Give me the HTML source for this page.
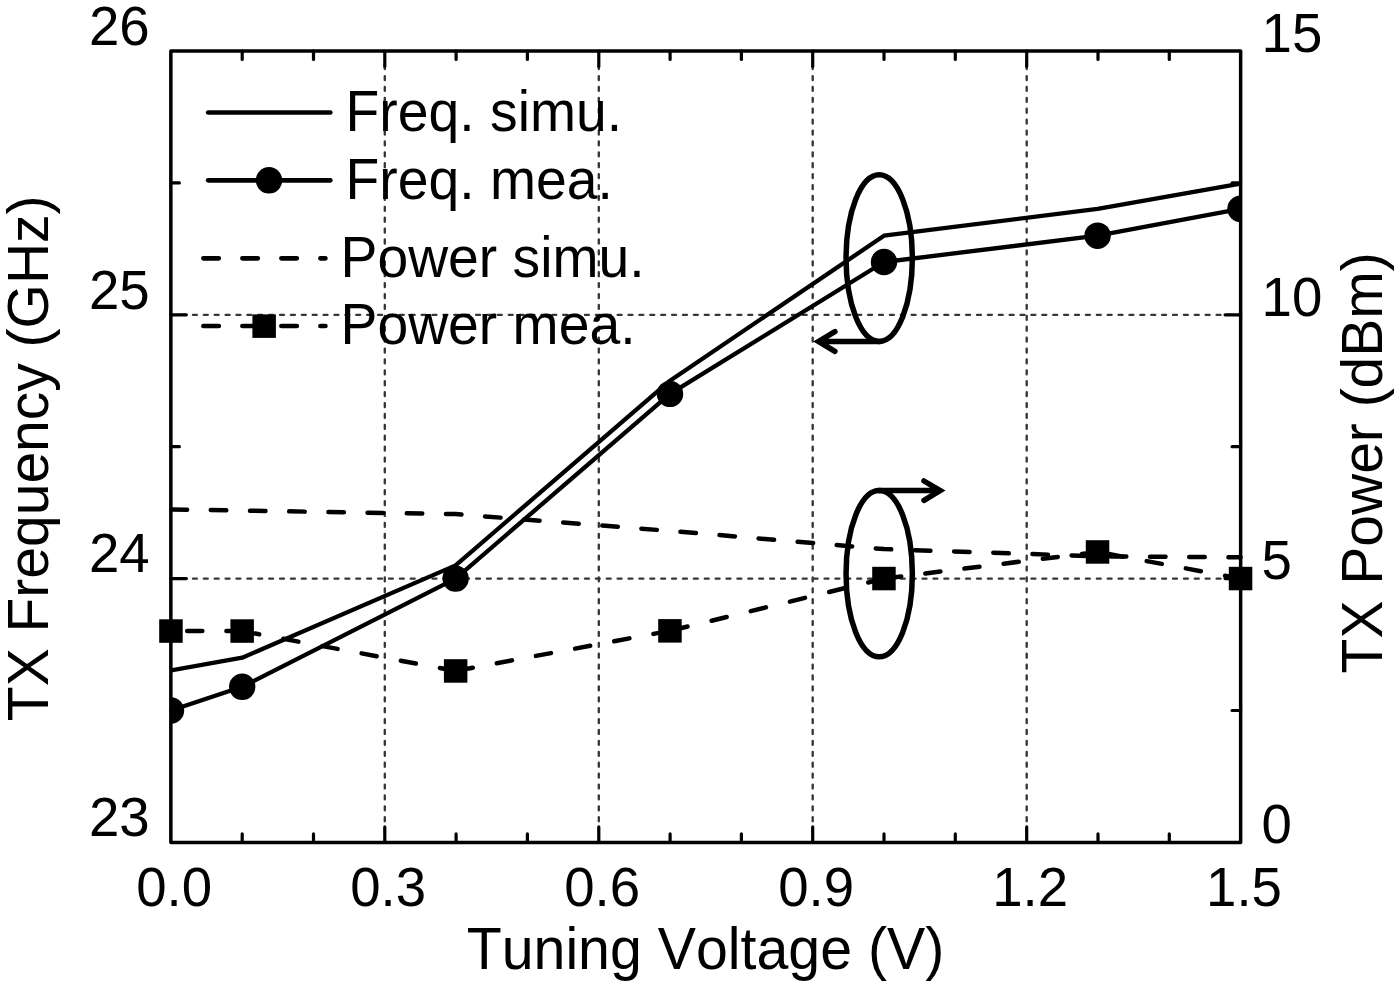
<!DOCTYPE html>
<html><head><meta charset="utf-8"><title>TX Frequency and Power vs Tuning Voltage</title>
<style>
html,body{margin:0;padding:0;background:#fff;}
body{width:1400px;height:988px;overflow:hidden;}
svg{display:block;}
text{font-family:"Liberation Sans",Arial,Helvetica,sans-serif;fill:#000;font-kerning:none;}
.tk{font-size:54.6px;}
.ti{font-size:57px;}
.tx{font-size:57.3px;}
.lg{font-size:55.3px;}
</style></head><body>
<svg width="1400" height="988" viewBox="0 0 1400 988">
<defs><clipPath id="fr"><rect x="171" y="51" width="1069.6" height="791.4"/></clipPath></defs>
<rect x="0" y="0" width="1400" height="988" fill="#fff"/>

<g stroke="#363636" stroke-width="2.35" stroke-linecap="round" fill="none">
<line x1="384.8" y1="65.15" x2="384.8" y2="842.4" stroke-dasharray="3.9 7"/>
<line x1="598.8" y1="65.15" x2="598.8" y2="842.4" stroke-dasharray="3.9 7"/>
<line x1="812.7" y1="65.15" x2="812.7" y2="842.4" stroke-dasharray="3.9 7"/>
<line x1="1026.7" y1="65.15" x2="1026.7" y2="842.4" stroke-dasharray="3.9 7"/>
<line x1="182.06" y1="578.6" x2="1240.6" y2="578.6" stroke-dasharray="3.9 6.99"/>
<line x1="182.06" y1="314.8" x2="1240.6" y2="314.8" stroke-dasharray="3.9 6.99"/>
</g>
<rect x="170.85" y="51.0" width="1069.8" height="791.4" fill="none" stroke="#000" stroke-width="3.5" stroke-linejoin="round"/>
<g stroke="#000" stroke-width="3.2" stroke-linecap="round">
<line x1="242.2" y1="51.0" x2="242.2" y2="59.5"/>
<line x1="242.2" y1="842.4" x2="242.2" y2="833.9"/>
<line x1="313.5" y1="51.0" x2="313.5" y2="59.5"/>
<line x1="313.5" y1="842.4" x2="313.5" y2="833.9"/>
<line x1="384.8" y1="51.0" x2="384.8" y2="66.5"/>
<line x1="384.8" y1="842.4" x2="384.8" y2="826.9"/>
<line x1="456.1" y1="51.0" x2="456.1" y2="59.5"/>
<line x1="456.1" y1="842.4" x2="456.1" y2="833.9"/>
<line x1="527.4" y1="51.0" x2="527.4" y2="59.5"/>
<line x1="527.4" y1="842.4" x2="527.4" y2="833.9"/>
<line x1="598.8" y1="51.0" x2="598.8" y2="66.5"/>
<line x1="598.8" y1="842.4" x2="598.8" y2="826.9"/>
<line x1="670.1" y1="51.0" x2="670.1" y2="59.5"/>
<line x1="670.1" y1="842.4" x2="670.1" y2="833.9"/>
<line x1="741.4" y1="51.0" x2="741.4" y2="59.5"/>
<line x1="741.4" y1="842.4" x2="741.4" y2="833.9"/>
<line x1="812.7" y1="51.0" x2="812.7" y2="66.5"/>
<line x1="812.7" y1="842.4" x2="812.7" y2="826.9"/>
<line x1="884.0" y1="51.0" x2="884.0" y2="59.5"/>
<line x1="884.0" y1="842.4" x2="884.0" y2="833.9"/>
<line x1="955.3" y1="51.0" x2="955.3" y2="59.5"/>
<line x1="955.3" y1="842.4" x2="955.3" y2="833.9"/>
<line x1="1026.7" y1="51.0" x2="1026.7" y2="66.5"/>
<line x1="1026.7" y1="842.4" x2="1026.7" y2="826.9"/>
<line x1="1098.0" y1="51.0" x2="1098.0" y2="59.5"/>
<line x1="1098.0" y1="842.4" x2="1098.0" y2="833.9"/>
<line x1="1169.3" y1="51.0" x2="1169.3" y2="59.5"/>
<line x1="1169.3" y1="842.4" x2="1169.3" y2="833.9"/>
<line x1="170.85" y1="710.5" x2="179.35" y2="710.5"/>
<line x1="1240.6" y1="710.5" x2="1232.1" y2="710.5"/>
<line x1="170.85" y1="578.6" x2="186.35" y2="578.6"/>
<line x1="1240.6" y1="578.6" x2="1225.1" y2="578.6"/>
<line x1="170.85" y1="446.7" x2="179.35" y2="446.7"/>
<line x1="1240.6" y1="446.7" x2="1232.1" y2="446.7"/>
<line x1="170.85" y1="314.8" x2="186.35" y2="314.8"/>
<line x1="1240.6" y1="314.8" x2="1225.1" y2="314.8"/>
<line x1="170.85" y1="182.9" x2="179.35" y2="182.9"/>
<line x1="1240.6" y1="182.9" x2="1232.1" y2="182.9"/>
</g>
<polyline points="171.0,509.4 242.2,510.6 455.6,514.1 670.0,530.9 884.0,549.1 1097.6,556.3 1240.5,557.3" fill="none" stroke="#000" stroke-width="4.5" stroke-linecap="round" stroke-linejoin="round" stroke-dasharray="15.5 23.7" stroke-dashoffset="-0.6"/>
<g stroke="#000" stroke-width="4.5" stroke-linecap="round" fill="none">
<line x1="187.2" y1="631.1" x2="202.3" y2="631.1"/>
<line x1="226.4" y1="631.1" x2="241.5" y2="631.1"/>
<line x1="244.2" y1="631.5" x2="259.2" y2="634.3"/>
<line x1="283.3" y1="638.8" x2="298.4" y2="641.6"/>
<line x1="322.4" y1="646.1" x2="337.6" y2="648.9"/>
<line x1="361.6" y1="653.4" x2="376.7" y2="656.2"/>
<line x1="400.8" y1="660.7" x2="415.9" y2="663.5"/>
<line x1="439.9" y1="668.0" x2="455.0" y2="670.8"/>
<line x1="457.6" y1="670.5" x2="472.8" y2="667.7"/>
<line x1="496.8" y1="663.2" x2="511.9" y2="660.4"/>
<line x1="535.9" y1="655.9" x2="551.0" y2="653.1"/>
<line x1="575.1" y1="648.6" x2="590.2" y2="645.8"/>
<line x1="614.2" y1="641.3" x2="629.4" y2="638.4"/>
<line x1="653.4" y1="633.9" x2="668.5" y2="631.1"/>
<line x1="672.5" y1="630.2" x2="687.6" y2="626.5"/>
<line x1="711.6" y1="620.7" x2="726.7" y2="617.0"/>
<line x1="750.8" y1="611.1" x2="765.9" y2="607.4"/>
<line x1="789.9" y1="601.6" x2="805.0" y2="597.9"/>
<line x1="829.1" y1="592.0" x2="844.2" y2="588.3"/>
<line x1="868.2" y1="582.5" x2="883.3" y2="578.8"/>
<line x1="886.1" y1="578.3" x2="901.2" y2="576.4"/>
<line x1="925.3" y1="573.4" x2="940.4" y2="571.6"/>
<line x1="964.4" y1="568.6" x2="979.5" y2="566.7"/>
<line x1="1003.6" y1="563.7" x2="1018.7" y2="561.8"/>
<line x1="1042.8" y1="558.8" x2="1057.8" y2="556.9"/>
<line x1="1081.9" y1="553.9" x2="1097.0" y2="552.0"/>
<line x1="1107.5" y1="553.8" x2="1122.6" y2="556.6"/>
<line x1="1146.7" y1="561.1" x2="1161.8" y2="563.9"/>
<line x1="1185.8" y1="568.4" x2="1200.9" y2="571.2"/>
<line x1="1225.0" y1="575.7" x2="1240.1" y2="578.5"/>
</g>
<g clip-path="url(#fr)">
<polyline points="171.0,670.4 242.2,657.7 455.6,565.4 670.0,380.7 884.0,235.7 1097.6,208.8 1240.5,183.7" fill="none" stroke="#000" stroke-width="4.3" stroke-linecap="round" stroke-linejoin="round"/>
<polyline points="171.0,710.5 242.2,686.8 455.6,578.6 670.0,393.9 884.0,262.0 1097.6,235.7 1240.5,208.8" fill="none" stroke="#000" stroke-width="4.3" stroke-linecap="round" stroke-linejoin="round"/>
<circle cx="171.0" cy="710.5" r="13.2"/>
<circle cx="242.2" cy="686.8" r="13.2"/>
<circle cx="455.6" cy="578.6" r="13.2"/>
<circle cx="670.0" cy="393.9" r="13.2"/>
<circle cx="884.0" cy="262.0" r="13.2"/>
<circle cx="1097.6" cy="235.7" r="13.2"/>
<circle cx="1240.5" cy="208.8" r="13.2"/>
</g>
<rect x="159.2" y="619.3" width="23.5" height="23.5"/>
<rect x="230.4" y="619.3" width="23.5" height="23.5"/>
<rect x="443.9" y="659.2" width="23.5" height="23.5"/>
<rect x="658.2" y="619.1" width="23.5" height="23.5"/>
<rect x="872.2" y="566.8" width="23.5" height="23.5"/>
<rect x="1085.8" y="540.2" width="23.5" height="23.5"/>
<rect x="1228.8" y="566.8" width="23.5" height="23.5"/>
<g fill="none" stroke="#000" stroke-width="5.5" stroke-linecap="round" stroke-linejoin="miter">
<ellipse cx="879.2" cy="258.1" rx="33.15" ry="83.3"/>
<path d="M880 341.4 H820 M834.9 331.6 L818.5 341.4 L834.9 351.4"/>
<ellipse cx="879.2" cy="573.7" rx="33.15" ry="83.1"/>
<path d="M879 490.6 H939 M924 481 L940.2 490.6 L924 500.4"/>
</g>
<g fill="none" stroke="#000" stroke-width="4.7" stroke-linecap="round">
<line x1="208.2" y1="112.5" x2="330.3" y2="112.5"/>
<line x1="208.2" y1="180.3" x2="330.3" y2="180.3"/>
<line x1="203.4" y1="258.3" x2="325.4" y2="258.3" stroke-dasharray="15.4 23.6"/>
<line x1="203.4" y1="326" x2="325.4" y2="326" stroke-dasharray="15.4 23.6"/>
</g>
<circle cx="269" cy="180.3" r="13.2"/>
<rect x="252.4" y="314.4" width="23.5" height="23.5"/>
<text class="lg" transform="translate(345.6 131.0) scale(1 1.045)">Freq. simu.</text>
<text class="lg" transform="translate(345.6 199.0) scale(1 1.045)">Freq. mea.</text>
<text class="lg" transform="translate(340.5 277.0) scale(1 1.045)">Power simu.</text>
<text class="lg" transform="translate(340.5 344.2) scale(1 1.045)">Power mea.</text>
<text class="tk" transform="translate(149.6 44.7) scale(1 1.026)" text-anchor="end">26</text>
<text class="tk" transform="translate(149.6 308.5) scale(1 1.026)" text-anchor="end">25</text>
<text class="tk" transform="translate(149.6 572.3) scale(1 1.026)" text-anchor="end">24</text>
<text class="tk" transform="translate(149.6 836.1) scale(1 1.026)" text-anchor="end">23</text>
<text class="tk" transform="translate(1261.6 51.8) scale(1 1.026)">15</text>
<text class="tk" transform="translate(1261.6 315.6) scale(1 1.026)">10</text>
<text class="tk" transform="translate(1261.6 579.4) scale(1 1.026)">5</text>
<text class="tk" transform="translate(1261.6 843.2) scale(1 1.026)">0</text>
<text class="tk" transform="translate(174.2 905.6) scale(1 1.026)" text-anchor="middle">0.0</text>
<text class="tk" transform="translate(388.2 905.6) scale(1 1.026)" text-anchor="middle">0.3</text>
<text class="tk" transform="translate(602.1 905.6) scale(1 1.026)" text-anchor="middle">0.6</text>
<text class="tk" transform="translate(816.1 905.6) scale(1 1.026)" text-anchor="middle">0.9</text>
<text class="tk" transform="translate(1030.1 905.6) scale(1 1.026)" text-anchor="middle">1.2</text>
<text class="tk" transform="translate(1244.0 905.6) scale(1 1.026)" text-anchor="middle">1.5</text>
<text class="tx" transform="translate(705.5 969.0) scale(1 1.02)" text-anchor="middle">Tuning Voltage (V)</text>
<text class="ti" transform="translate(48.2 458.3) rotate(-90) scale(1 1.02)" text-anchor="middle">TX Frequency (GHz)</text>
<text class="ti" transform="translate(1382.0 462.8) rotate(-90) scale(1 1.02)" text-anchor="middle">TX Power (dBm)</text>
</svg></body></html>
